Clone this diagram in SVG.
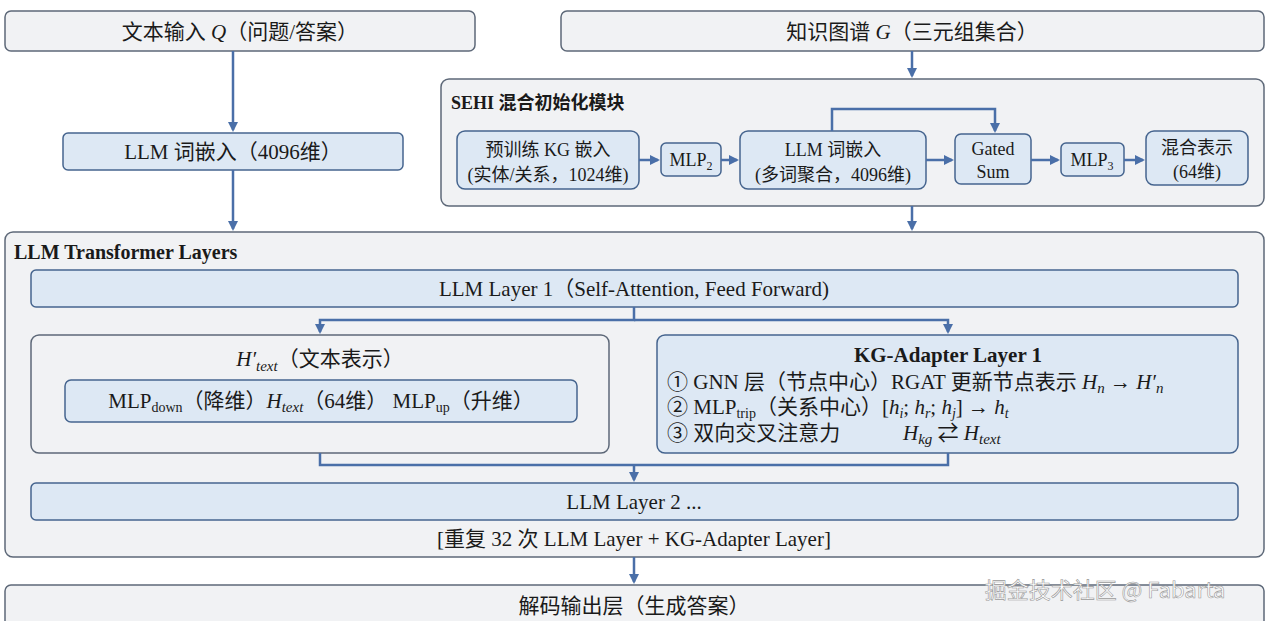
<svg xmlns="http://www.w3.org/2000/svg" width="1265" height="621" viewBox="0 0 1265 621">
<defs>
<style>
text{font-family:"Liberation Serif","Noto Sans CJK SC",serif;fill:#1a1a1a;text-anchor:middle}
.panel{fill:#f1f2f4;stroke:#5d6878;stroke-width:1.5}
.box{fill:#dde8f4;stroke:#45648e;stroke-width:1.5}
.ln{fill:none;stroke:#4a6fa8;stroke-width:2.5}
.t{font-size:21px}
.s{font-size:18px}
.b{font-weight:bold;text-anchor:start}
.i{font-style:italic}
.l{text-anchor:start}
</style>
<marker id="a" viewBox="0 0 10 10" refX="8" refY="5" markerWidth="4" markerHeight="4" orient="auto"><path d="M0,0L10,5L0,10z" fill="#4a6fa8"/></marker>
</defs>
<rect width="1265" height="621" fill="#fff"/>
<g id="input-text"><rect class="panel" x="5" y="11" width="470" height="40" rx="6"/><text class="t" x="240" y="39">文本输入 <tspan class="i">Q</tspan>（问题/答案）</text></g>
<g id="input-kg"><rect class="panel" x="561" y="11" width="703" height="40" rx="6"/><text class="t" x="912" y="39">知识图谱 <tspan class="i">G</tspan>（三元组集合）</text></g>
<g id="llm-embed"><rect class="box" x="63" y="133" width="340" height="37" rx="5"/><text class="t" x="233" y="159">LLM 词嵌入（4096维）</text></g>
<g id="sehi"><rect class="panel" x="441" y="79" width="823" height="127" rx="8"/><text class="s b" x="451" y="109">SEHI 混合初始化模块</text></g>
<g id="pretrain"><rect class="box" x="457" y="131" width="182" height="58" rx="8"/><text class="s" x="548" y="156">预训练 KG 嵌入</text><text class="s" x="548" y="181">(实体/关系，1024维)</text></g>
<g id="mlp2"><rect class="box" x="661" y="143" width="60" height="33" rx="5"/><text class="s" x="691" y="166">MLP<tspan font-size="12" dy="4">2</tspan></text></g>
<g id="llm-embed2"><rect class="box" x="740" y="131" width="186" height="58" rx="8"/><text class="s" x="833" y="156">LLM 词嵌入</text><text class="s" x="833" y="181">(多词聚合，4096维)</text></g>
<g id="gated"><rect class="box" x="955" y="134" width="76" height="50" rx="6"/><text class="s" x="993" y="155">Gated</text><text class="s" x="993" y="178">Sum</text></g>
<g id="mlp3"><rect class="box" x="1061" y="143" width="63" height="33" rx="5"/><text class="s" x="1092" y="166">MLP<tspan font-size="12" dy="4">3</tspan></text></g>
<g id="mix"><rect class="box" x="1146" y="131" width="102" height="54" rx="8"/><text class="s" x="1197" y="154">混合表示</text><text class="s" x="1197" y="178">(64维)</text></g>
<g id="transformer"><rect class="panel" x="5" y="232" width="1259" height="325" rx="8"/><text class="b" x="14" y="259" font-size="20">LLM Transformer Layers</text><text class="t" x="634" y="546">[重复 32 次 LLM Layer + KG-Adapter Layer]</text></g>
<g id="layer1"><rect class="box" x="31" y="270" width="1207" height="37" rx="5"/><text class="t" x="634" y="296">LLM Layer 1（Self-Attention, Feed Forward)</text></g>
<g id="text-rep"><rect class="panel" x="31" y="335" width="578" height="118" rx="8"/><text class="t" x="320" y="366"><tspan class="i">H′</tspan><tspan class="i" font-size="15" dy="5">text</tspan><tspan dy="-5">（文本表示）</tspan></text>
<rect class="box" x="65" y="380" width="512" height="42" rx="6"/><text class="t" x="321" y="408">MLP<tspan font-size="14" dy="4">down</tspan><tspan dy="-4">（降维）</tspan><tspan class="i">H</tspan><tspan class="i" font-size="15" dy="4">text</tspan><tspan dy="-4">（64维） MLP</tspan><tspan font-size="14" dy="4">up</tspan><tspan dy="-4">（升维）</tspan></text></g>
<g id="kg-adapter"><rect class="box" x="657" y="335" width="581" height="118" rx="8"/><text class="t" x="948" y="362" font-weight="bold">KG-Adapter Layer 1</text>
<text class="t l" x="667" y="389">① GNN 层（节点中心）RGAT 更新节点表示 <tspan class="i">H</tspan><tspan class="i" font-size="15" dy="4">n</tspan><tspan dy="-4"> → </tspan><tspan class="i">H′</tspan><tspan class="i" font-size="15" dy="4">n</tspan></text>
<text class="t l" x="667" y="414">② MLP<tspan font-size="14" dy="4">trip</tspan><tspan dy="-4">（关系中心）[</tspan><tspan class="i">h</tspan><tspan class="i" font-size="14" dy="4">i</tspan><tspan dy="-4">; </tspan><tspan class="i">h</tspan><tspan class="i" font-size="14" dy="4">r</tspan><tspan dy="-4">; </tspan><tspan class="i">h</tspan><tspan class="i" font-size="14" dy="4">j</tspan><tspan dy="-4">] → </tspan><tspan class="i">h</tspan><tspan class="i" font-size="14" dy="4">t</tspan></text>
<text class="t l" x="667" y="440">③ 双向交叉注意力</text><text class="t l" x="903" y="440"><tspan class="i">H</tspan><tspan class="i" font-size="15" dy="4">kg</tspan><tspan dy="-4"> ⇄ </tspan><tspan class="i">H</tspan><tspan class="i" font-size="15" dy="4">text</tspan></text></g>
<g id="layer2"><rect class="box" x="31" y="483" width="1207" height="37" rx="5"/><text class="t" x="634" y="509">LLM Layer 2 ...</text></g>
<g id="output"><rect class="panel" x="5" y="585" width="1259" height="45" rx="6"/><text class="t" x="634" y="613">解码输出层（生成答案）</text></g>
<g id="connectors">
<path class="ln" d="M233,51V130" marker-end="url(#a)"/>
<path class="ln" d="M233,170V229" marker-end="url(#a)"/>
<path class="ln" d="M912,51V76" marker-end="url(#a)"/>
<path class="ln" d="M912,206V229" marker-end="url(#a)"/>
<path class="ln" d="M639,160H658" marker-end="url(#a)"/>
<path class="ln" d="M721,160H737" marker-end="url(#a)"/>
<path class="ln" d="M926,160H952" marker-end="url(#a)"/>
<path class="ln" d="M1031,160H1058" marker-end="url(#a)"/>
<path class="ln" d="M1124,160H1143" marker-end="url(#a)"/>
<path class="ln" d="M832,131V109H995V131" marker-end="url(#a)"/>
<path class="ln" d="M634,307V320H320V332" marker-end="url(#a)"/>
<path class="ln" d="M634,320H948V332" marker-end="url(#a)"/>
<path class="ln" d="M320,453V465H948V453"/>
<path class="ln" d="M634,465V480" marker-end="url(#a)"/>
<path class="ln" d="M634,557V582" marker-end="url(#a)"/>
</g>
<text x="1105" y="598" font-size="22" style="fill:#fff;stroke:#999;stroke-width:0.6;font-family:'Noto Sans CJK SC',sans-serif">掘金技术社区 @ Fabarta</text>
</svg>
